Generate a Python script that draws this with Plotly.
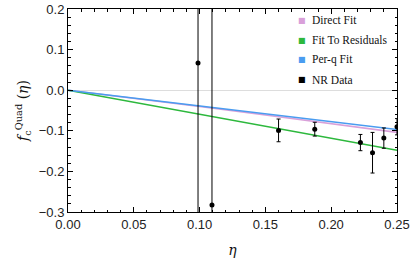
import plotly.graph_objects as go

# NR data (eta, value, error)
nr_eta = [0.0988, 0.1094, 0.16, 0.1875, 0.2222, 0.2314, 0.24, 0.25]
nr_val = [0.067, -0.283, -0.099, -0.096, -0.129, -0.154, -0.118, -0.090]
nr_err = [1.0, 1.0, 0.028, 0.017, 0.020, 0.050, 0.025, 0.020]

# fit curves
fit_eta = [0.0, 0.05, 0.10, 0.15, 0.20, 0.25]
direct_fit = [0.0, -0.0197, -0.0400, -0.0610, -0.0820, -0.1040]
resid_fit = [0.0, -0.0296, -0.0592, -0.0888, -0.1184, -0.1480]
perq_fit = [0.0, -0.0194, -0.0388, -0.0582, -0.0776, -0.0970]

legend_names = ["Direct Fit", "Fit To Residuals", "Per-q Fit", "NR Data"]

x_ticks = [0.0, 0.05, 0.10, 0.15, 0.20, 0.25]
x_labels = ["0.00", "0.05", "0.10", "0.15", "0.20", "0.25"]
y_ticks = [0.2, 0.1, 0.0, -0.1, -0.2, -0.3]
y_labels = ["0.2", "0.1", "0.0", "\u22120.1", "\u22120.2", "\u22120.3"]

c_direct = "#d9a0d9"
c_resid = "#2db83d"
c_perq = "#4a9cf0"
legend_colors = [c_direct, c_resid, c_perq, "black"]

fig = go.Figure()
fig.add_trace(go.Scatter(x=fit_eta, y=direct_fit, mode="lines",
                         line=dict(color=c_direct, width=1.6), showlegend=False))
fig.add_trace(go.Scatter(x=fit_eta, y=resid_fit, mode="lines",
                         line=dict(color=c_resid, width=1.6), showlegend=False))
fig.add_trace(go.Scatter(x=fit_eta, y=perq_fit, mode="lines",
                         line=dict(color=c_perq, width=1.6), showlegend=False))
fig.add_trace(go.Scatter(x=nr_eta, y=nr_val, mode="markers",
                         marker=dict(color="black", size=5),
                         error_y=dict(type="data", array=nr_err, color="black",
                                      thickness=1, width=2),
                         showlegend=False, cliponaxis=True))

# legend drawn as annotations (square swatch + label)
leg_y0 = 0.945
leg_dy = 0.098
for i, (name, col) in enumerate(zip(legend_names, legend_colors)):
    yy = leg_y0 - i * leg_dy
    fig.add_annotation(x=0.712, y=yy, xref="paper", yref="paper", text="\u25a0",
                       showarrow=False, xanchor="center", yanchor="middle",
                       font=dict(family="DejaVu Sans", size=8, color=col))
    fig.add_annotation(x=0.735, y=yy, xref="paper", yref="paper", text=name,
                       showarrow=False, xanchor="left", yanchor="middle",
                       font=dict(family="Liberation Serif", size=11.5, color="#111"))

axis_common = dict(showline=True, linecolor="black", linewidth=1, mirror="allticks",
                   ticks="inside", ticklen=5, tickcolor="black", showgrid=False,
                   automargin=False,
                   tickfont=dict(family="Liberation Sans", size=13, color="#222"))

fig.update_xaxes(range=[0, 0.25], tickvals=x_ticks, ticktext=x_labels,
                 minor=dict(dtick=0.01, ticks="inside", ticklen=2.5, tickcolor="black"),
                 zeroline=False,
                 title=dict(text="<i>\u03b7</i>",
                            font=dict(family="DejaVu Serif", size=14, color="#111"),
                            standoff=14),
                 **axis_common)
fig.update_yaxes(range=[-0.3, 0.2], tickvals=y_ticks, ticktext=y_labels,
                 minor=dict(dtick=0.02, ticks="inside", ticklen=2.5, tickcolor="black"),
                 zeroline=True, zerolinecolor="#dddddd", zerolinewidth=1,
                 title=dict(text="<i>f</i><sub>c</sub><sup>Quad</sup> (<i>\u03b7</i>)",
                            font=dict(family="DejaVu Serif", size=14, color="#111"),
                            standoff=6),
                 **axis_common)

fig.update_layout(width=415, height=261,
                  margin=dict(l=68, r=18, t=9, b=49),
                  plot_bgcolor="white", paper_bgcolor="white",
                  showlegend=False)

fig.write_html("out.html", config={"displayModeBar": False},
               post_script="document.body.style.margin='0';document.body.style.overflow='hidden';")
